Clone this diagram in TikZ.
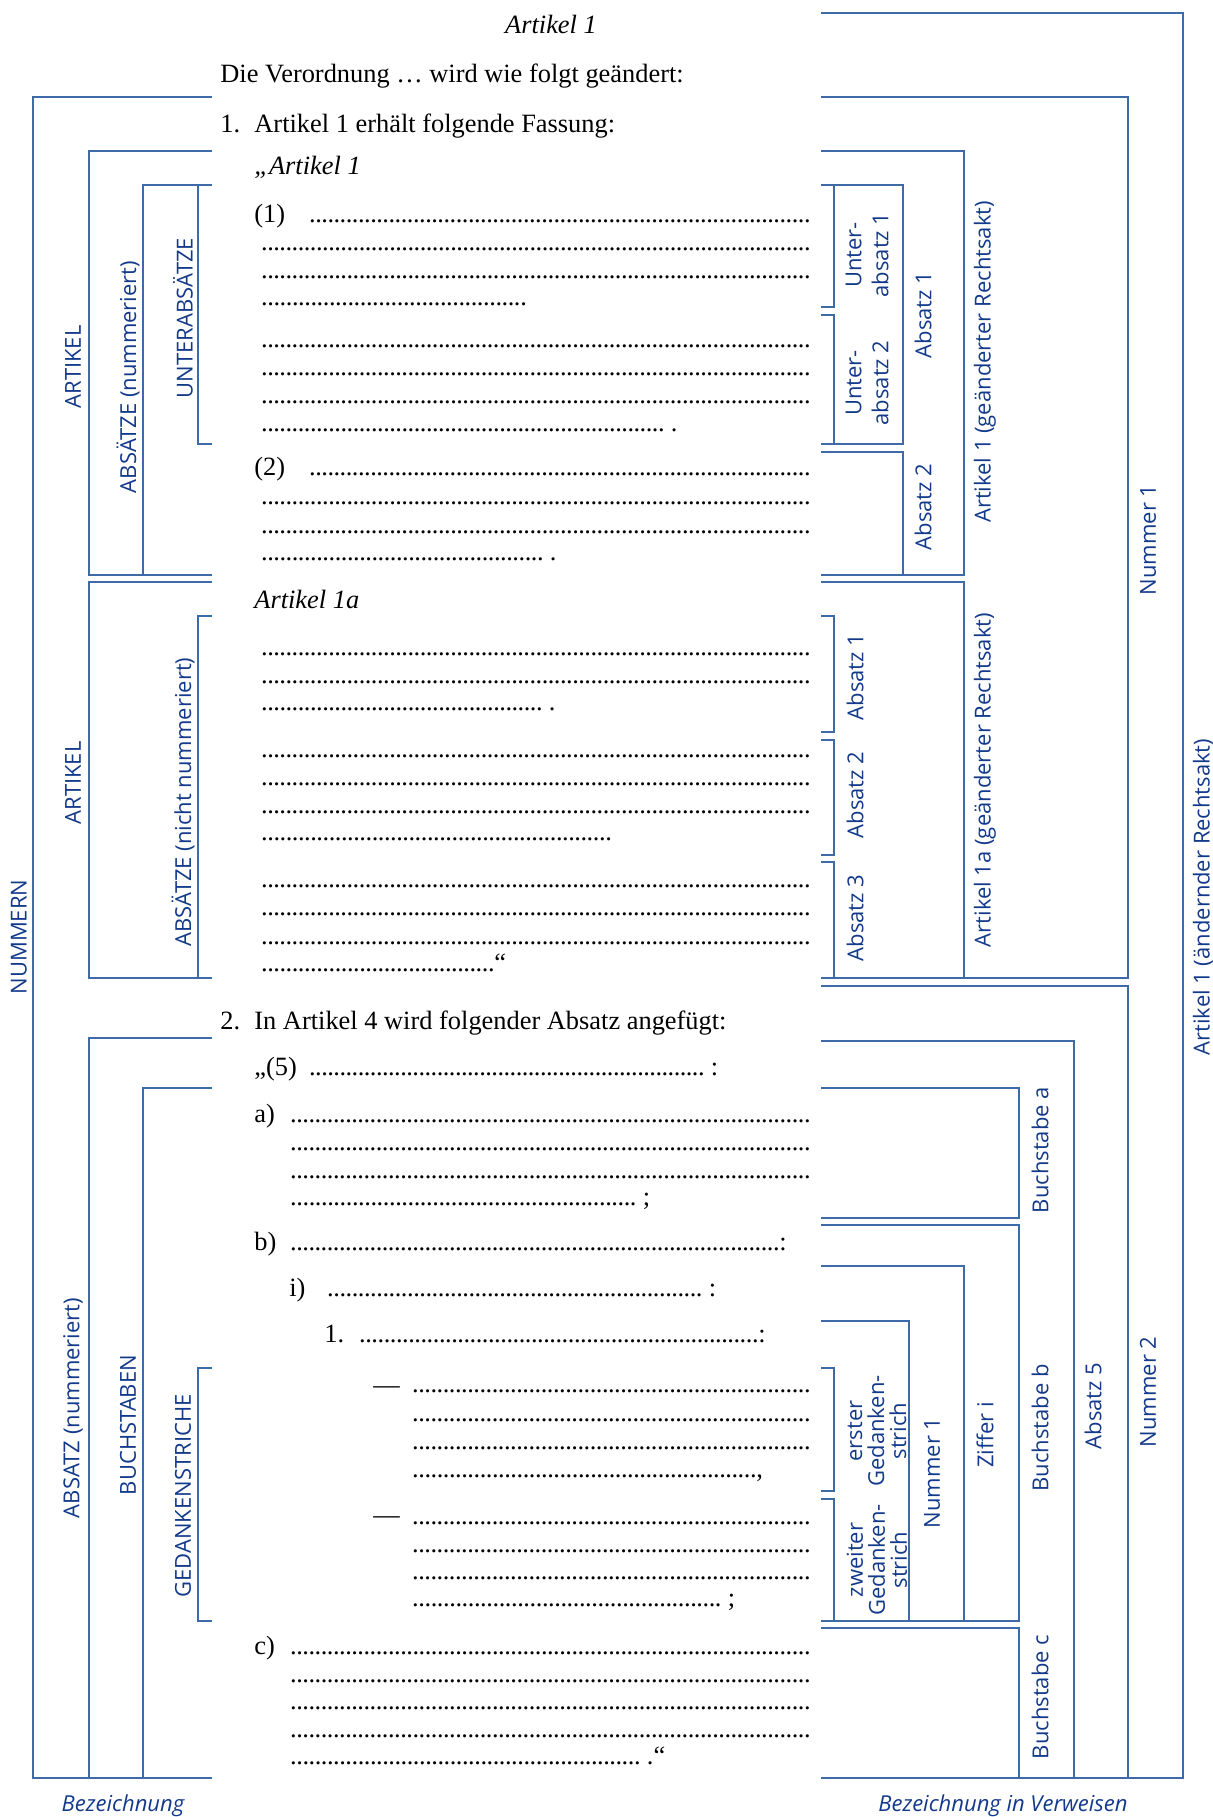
\documentclass[tikz,border=0pt]{standalone}
\usepackage{fontspec}
\setmainfont{Liberation Serif}
\newfontfamily\labfont{Open Sans}
\definecolor{bl}{HTML}{3E6BA8}
\definecolor{lb}{HTML}{12398A}
\newcommand\dotrow[1]{\makebox[#1][l]{\xleaders\hbox to 0.23em{\hss.\hss}\hfill}}
\begin{document}
\begin{tikzpicture}[x=0.5pt,y=-0.5pt,
  br/.style={draw=bl,line width=1.1pt},
  lab/.style={font=\labfont\fontsize{11}{13.5}\selectfont, text=lb, inner sep=0pt, rotate=90, align=center},
  labs/.style={lab, font=\labfont\fontsize{11}{11}\selectfont},
  labh/.style={font=\labfont\itshape\fontsize{11}{12}\selectfont, text=lb, inner sep=0pt},
  tx/.style={font=\fontsize{13.2}{14}\selectfont, anchor=base west, inner sep=0pt},
]
\useasboundingbox (0,0) rectangle (1213,1817);

% ---------- left brackets ----------
\draw[br] (212,97) -- (33,97) -- (33,1778) -- (212,1778);
\draw[br] (212,151) -- (89,151) -- (89,575) -- (212,575);
\draw[br] (212,185) -- (143,185) -- (143,575);
\draw[br] (212,185) -- (198,185) -- (198,444) -- (212,444);
\draw[br] (212,582) -- (89,582) -- (89,978) -- (212,978);
\draw[br] (212,616) -- (198,616) -- (198,978);
\draw[br] (212,1038) -- (89,1038) -- (89,1778);
\draw[br] (212,1088) -- (143,1088) -- (143,1778);
\draw[br] (212,1368) -- (198,1368) -- (198,1621) -- (212,1621);

% ---------- right brackets ----------
\draw[br] (821,13) -- (1183,13) -- (1183,1778) -- (821,1778);
\draw[br] (821,97) -- (1128,97) -- (1128,978) -- (821,978);
\draw[br] (821,151) -- (964,151) -- (964,575) -- (821,575);
\draw[br] (821,185) -- (903,185) -- (903,444) -- (821,444);
\draw[br] (821,185) -- (834,185) -- (834,307) -- (821,307);
\draw[br] (821,315) -- (834,315) -- (834,444);
\draw[br] (821,452) -- (903,452) -- (903,575);
\draw[br] (821,582) -- (964,582) -- (964,978);
\draw[br] (821,616) -- (834,616) -- (834,732) -- (821,732);
\draw[br] (821,740) -- (834,740) -- (834,855) -- (821,855);
\draw[br] (821,862) -- (834,862) -- (834,978);
\draw[br] (821,986) -- (1128,986) -- (1128,1778);
\draw[br] (821,1041) -- (1074,1041) -- (1074,1778);
\draw[br] (821,1088) -- (1019,1088) -- (1019,1218) -- (821,1218);
\draw[br] (821,1225) -- (1019,1225) -- (1019,1621) -- (821,1621);
\draw[br] (821,1266) -- (964,1266) -- (964,1621);
\draw[br] (821,1321) -- (909,1321) -- (909,1621);
\draw[br] (821,1368) -- (834,1368) -- (834,1491) -- (821,1491);
\draw[br] (821,1499) -- (834,1499) -- (834,1621);
\draw[br] (821,1628) -- (1019,1628) -- (1019,1778);

% ---------- left labels ----------
\node[lab] (lNum) at (19,937) {NUMMERN};
\node[lab] (lArt1) at (73,367) {ARTIKEL};
\node[lab] (lAbsN) at (128,377) {ABSÄTZE (nummeriert)};
\node[lab] (lUnter) at (183,318) {UNTERABSÄTZE};
\node[lab] (lArt2) at (73,783) {ARTIKEL};
\node[lab] (lAbsNN) at (183,802) {ABSÄTZE (nicht nummeriert)};
\node[lab] (lAbsatz) at (73,1408) {ABSATZ (nummeriert)};
\node[lab] (lBuch) at (128,1425) {BUCHSTABEN};
\node[lab] (lGed) at (183,1496) {GEDANKENSTRICHE};
\node[labh] (lBez) at (123,1806) {Bezeichnung};

% ---------- right labels ----------
\node[lab] (rUA1) at (867,255) {Unter-\\absatz 1};
\node[lab] (rUA2) at (867,383) {Unter-\\absatz 2};
\node[lab] (rA1) at (923,315) {Absatz 1};
\node[lab] (rA2) at (923,507) {Absatz 2};
\node[lab] (rArt1) at (985,362) {Artikel 1 (geänderter Rechtsakt)};
\node[lab] (rNum1) at (1148,540) {Nummer 1};
\node[lab] (rArtA) at (1203,897) {Artikel 1 (ändernder Rechtsakt)};
\node[lab] (rB1) at (855,677) {Absatz 1};
\node[lab] (rB2) at (855,795) {Absatz 2};
\node[lab] (rB3) at (855,918) {Absatz 3};
\node[lab] (rArt1a) at (985,780) {Artikel 1a (geänderter Rechtsakt)};
\node[lab] (rBa) at (1040,1150) {Buchstabe a};
\node[labs] (rG1) at (877,1431) {erster\\Gedanken-\\strich};
\node[labs] (rG2) at (877,1560) {zweiter\\Gedanken-\\strich};
\node[lab] (rN1) at (932,1473) {Nummer 1};
\node[lab] (rZi) at (985,1435) {Ziffer i};
\node[lab] (rBb) at (1040,1428) {Buchstabe b};
\node[lab] (rA5) at (1093,1406) {Absatz 5};
\node[lab] (rN2) at (1148,1392) {Nummer 2};
\node[lab] (rBc) at (1040,1697) {Buchstabe c};
\node[labh] (rBez) at (1003,1806) {Bezeichnung in Verweisen};

% ---------- text: Artikel 1 ----------
\node[tx,anchor=base] (t0) at (551,33) {\itshape Artikel 1};
\node[tx] (t1) at (220,82) {Die Verordnung … wird wie folgt geändert:};
\node[tx] (t2a) at (220,132) {1.};
\node[tx] (t2b) at (254,132) {Artikel 1 erhält folgende Fassung:};
\node[tx] (t3) at (254,174) {\itshape „Artikel 1};
\node[tx] (p1) at (254,222) {(1)};
\node[tx] (a1) at (309,222) {\dotrow{250.5pt}};
\node[tx] (a2) at (261,250.5) {\dotrow{274.5pt}};
\node[tx] (a3) at (261,278) {\dotrow{274.5pt}};
\node[tx] (a4) at (261,305.5) {\dotrow{129.5pt}.};
\node[tx] (a5) at (261,347.5) {\dotrow{274.5pt}};
\node[tx] (a6) at (261,375.5) {\dotrow{274.5pt}};
\node[tx] (a7) at (261,403.5) {\dotrow{274.5pt}};
\node[tx] (a8) at (261,431) {\dotrow{201.5pt} .};
\node[tx] (p2) at (254,475) {(2)};
\node[tx] (b1) at (309,475) {\dotrow{250.5pt}};
\node[tx] (b2) at (261,504) {\dotrow{274.5pt}};
\node[tx] (b3) at (261,533) {\dotrow{274.5pt}};
\node[tx] (b4) at (261,560) {\dotrow{141pt} .};

% ---------- text: Artikel 1a ----------
\node[tx] (t4) at (254,608) {\itshape Artikel 1a};
\node[tx] (c1) at (261,655) {\dotrow{274.5pt}};
\node[tx] (c2) at (261,683) {\dotrow{274.5pt}};
\node[tx] (c3) at (261,710) {\dotrow{140.5pt} .};
\node[tx] (c4) at (261,757) {\dotrow{274.5pt}};
\node[tx] (c5) at (261,785) {\dotrow{274.5pt}};
\node[tx] (c6) at (261,813) {\dotrow{274.5pt}};
\node[tx] (c7) at (261,840) {\dotrow{172pt}.};
\node[tx] (c8) at (261,887) {\dotrow{274.5pt}};
\node[tx] (c9) at (261,915) {\dotrow{274.5pt}};
\node[tx] (c10) at (261,944) {\dotrow{274.5pt}};
\node[tx] (c11) at (261,971) {\dotrow{116.5pt}“};

% ---------- text: Nummer 2 ----------
\node[tx] (t5a) at (220,1029) {2.};
\node[tx] (t5b) at (254,1029) {In Artikel 4 wird folgender Absatz angefügt:};
\node[tx] (p5) at (254,1075) {„(5)};
\node[tx] (e1) at (309,1075) {\dotrow{197.5pt} :};
\node[tx] (la) at (254,1122) {a)};
\node[tx] (f1) at (290,1122) {\dotrow{260pt}};
\node[tx] (f2) at (290,1150) {\dotrow{260pt}};
\node[tx] (f3) at (290,1178) {\dotrow{260pt}};
\node[tx] (f4) at (290,1205) {\dotrow{173pt} ;};
\node[tx] (lbb) at (254,1250) {b)};
\node[tx] (g1) at (290,1250) {\dotrow{244.5pt}:};
\node[tx] (li) at (289,1296) {i)};
\node[tx] (h1) at (327,1296) {\dotrow{187.5pt} :};
\node[tx] (l1) at (324,1342) {1.};
\node[tx] (k1) at (359,1342) {\dotrow{199.5pt}:};
\node[tx] (m0) at (373,1393) {—};
\node[tx] (m1) at (412,1392) {\dotrow{199pt}};
\node[tx] (m2) at (412,1421) {\dotrow{199pt}};
\node[tx] (m3) at (412,1449) {\dotrow{199pt}};
\node[tx] (m4) at (412,1477) {\dotrow{172pt},};
\node[tx] (n0) at (373,1523) {—};
\node[tx] (n1) at (412,1524) {\dotrow{199pt}};
\node[tx] (n2) at (412,1552) {\dotrow{199pt}};
\node[tx] (n3) at (412,1579) {\dotrow{199pt}};
\node[tx] (n4) at (412,1606) {\dotrow{154.5pt} ;};
\node[tx] (lc) at (254,1654) {c)};
\node[tx] (o1) at (290,1654) {\dotrow{260pt}};
\node[tx] (o2) at (290,1682) {\dotrow{260pt}};
\node[tx] (o3) at (290,1709) {\dotrow{260pt}};
\node[tx] (o4) at (290,1737) {\dotrow{260pt}};
\node[tx] (o5) at (290,1764) {\dotrow{175pt} .“};
\end{tikzpicture}
\end{document}
